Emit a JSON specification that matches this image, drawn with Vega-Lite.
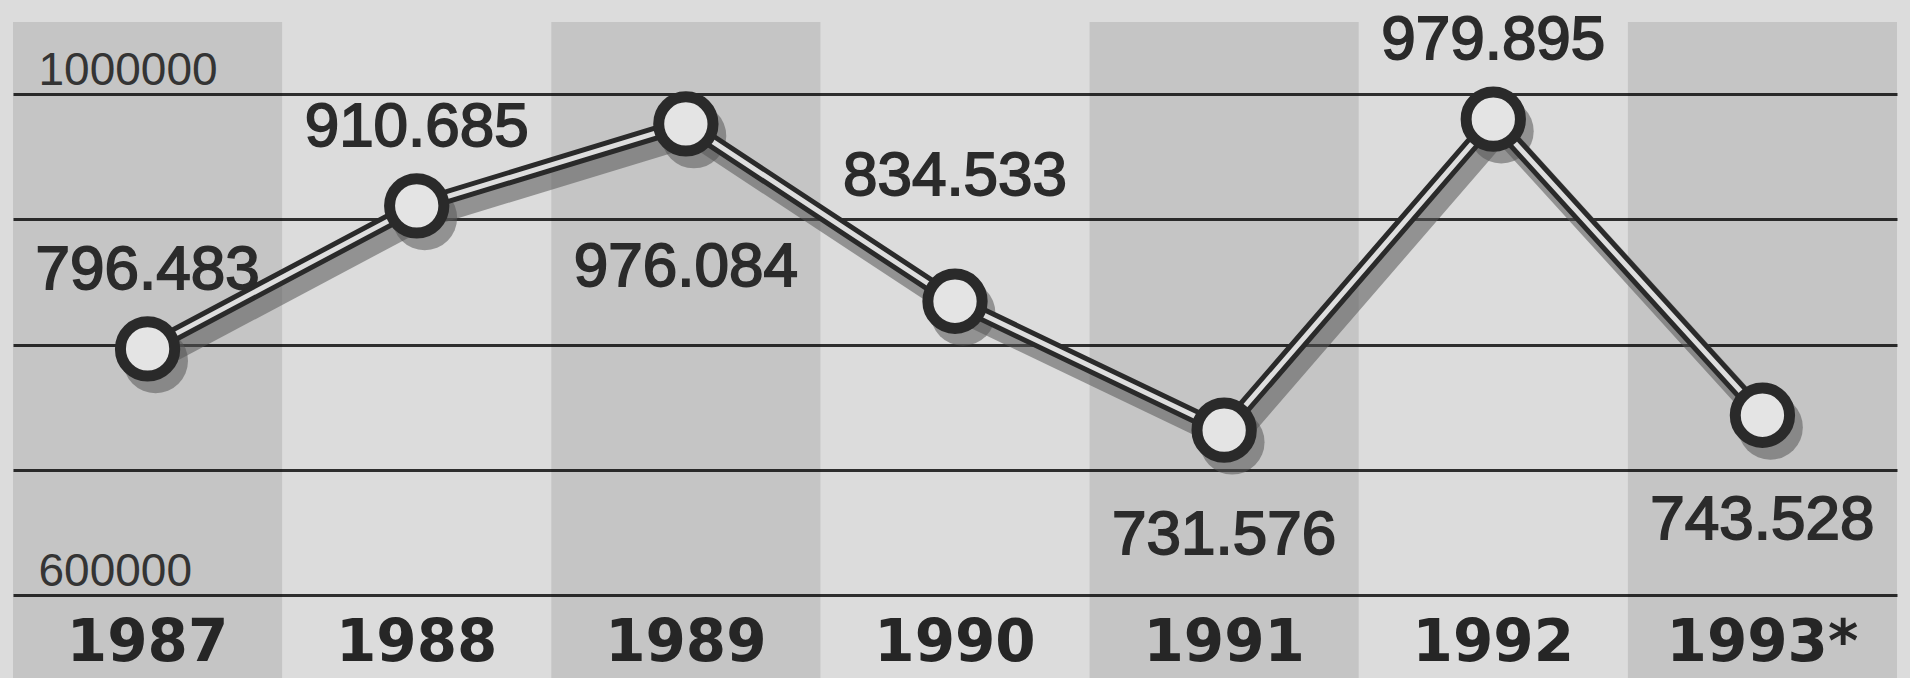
{
  "$schema": "https://vega.github.io/schema/vega-lite/v6.json",
  "width": 1884,
  "height": 678,
  "autosize": {"type": "none"},
  "padding": {"left": 13, "right": 13, "top": 0, "bottom": 0},
  "background": "#dcdcdc",
  "config": {"view": {"stroke": null}},
  "data": {
    "values": [
      {"year": "1987", "value": 796483, "label": "796.483"},
      {"year": "1988", "value": 910685, "label": "910.685"},
      {"year": "1989", "value": 976084, "label": "976.084"},
      {"year": "1990", "value": 834533, "label": "834.533"},
      {"year": "1991", "value": 731576, "label": "731.576"},
      {"year": "1992", "value": 979895, "label": "979.895"},
      {"year": "1993*", "value": 743528, "label": "743.528"}
    ]
  },
  "encoding": {
    "x": {
      "field": "year",
      "type": "nominal",
      "sort": null,
      "scale": {"type": "band", "paddingInner": 0, "paddingOuter": 0, "domain": ["1987", "1988", "1989", "1990", "1991", "1992", "1993*"]},
      "axis": null
    }
  },
  "layer": [
    {
      "transform": [{"filter": {"field": "year", "oneOf": ["1987", "1989", "1991", "1993*"]}}],
      "mark": {"type": "rect", "color": "#000000", "opacity": 0.1},
      "encoding": {
        "y": {"datum": 1057500, "type": "quantitative", "scale": {"domain": [533733, 1075050], "nice": false, "zero": false}},
        "y2": {"datum": 533733}
      }
    },
    {
      "transform": [{"filter": {"field": "year", "oneOf": ["1987", "1988", "1992"]}}],
      "mark": {"type": "text", "font": "Liberation Sans", "fontSize": 62, "color": "#2b2b2b", "stroke": "#2b2b2b", "strokeWidth": 1.8, "baseline": "alphabetic", "align": "center", "dy": -60},
      "encoding": {
        "y": {"field": "value", "type": "quantitative", "scale": {"domain": [533733, 1075050], "nice": false, "zero": false}},
        "text": {"field": "label"}
      }
    },
    {
      "transform": [{"filter": {"field": "year", "oneOf": ["1990"]}}],
      "mark": {"type": "text", "font": "Liberation Sans", "fontSize": 62, "color": "#2b2b2b", "stroke": "#2b2b2b", "strokeWidth": 1.8, "baseline": "alphabetic", "align": "center", "dy": -106},
      "encoding": {
        "y": {"field": "value", "type": "quantitative", "scale": {"domain": [533733, 1075050], "nice": false, "zero": false}},
        "text": {"field": "label"}
      }
    },
    {
      "transform": [{"filter": {"field": "year", "oneOf": ["1991", "1993*"]}}],
      "mark": {"type": "text", "font": "Liberation Sans", "fontSize": 62, "color": "#2b2b2b", "stroke": "#2b2b2b", "strokeWidth": 1.8, "baseline": "alphabetic", "align": "center", "dy": 124},
      "encoding": {
        "y": {"field": "value", "type": "quantitative", "scale": {"domain": [533733, 1075050], "nice": false, "zero": false}},
        "text": {"field": "label"}
      }
    },
    {
      "transform": [{"filter": {"field": "year", "oneOf": ["1989"]}}],
      "mark": {"type": "text", "font": "Liberation Sans", "fontSize": 62, "color": "#2b2b2b", "stroke": "#2b2b2b", "strokeWidth": 1.8, "baseline": "alphabetic", "align": "center", "dy": 162},
      "encoding": {
        "y": {"field": "value", "type": "quantitative", "scale": {"domain": [533733, 1075050], "nice": false, "zero": false}},
        "text": {"field": "label"}
      }
    },
    {
      "mark": {"type": "text", "font": "DejaVu Sans", "fontWeight": "bold", "fontSize": 58, "color": "#262626", "baseline": "alphabetic", "align": "center"},
      "encoding": {
        "y": {"datum": 547000, "type": "quantitative", "scale": {"domain": [533733, 1075050], "nice": false, "zero": false}},
        "text": {"field": "year"}
      }
    },
    {
      "mark": {"type": "line", "color": "#555555", "opacity": 0.55, "strokeWidth": 20, "xOffset": 8, "yOffset": 12, "strokeJoin": "round"},
      "encoding": {
        "y": {"field": "value", "type": "quantitative", "scale": {"domain": [533733, 1075050], "nice": false, "zero": false}}
      }
    },
    {
      "mark": {"type": "point", "filled": true, "color": "#555555", "opacity": 0.55, "size": 4200, "shape": "circle", "xOffset": 8, "yOffset": 12},
      "encoding": {
        "y": {"field": "value", "type": "quantitative", "scale": {"domain": [533733, 1075050], "nice": false, "zero": false}}
      }
    },
    {
      "mark": {"type": "line", "color": "#2a2a2a", "strokeWidth": 15, "strokeJoin": "round"},
      "encoding": {
        "y": {
          "field": "value",
          "type": "quantitative",
          "scale": {"domain": [533733, 1075050], "nice": false, "zero": false},
          "axis": {
            "values": [600000, 700000, 800000, 900000, 1000000],
            "grid": true,
            "gridColor": "#2e2e2e",
            "gridWidth": 3,
            "gridOpacity": 1,
            "domain": false,
            "ticks": false,
            "tickSize": 0,
            "labelPadding": -25,
            "labelAlign": "left",
            "labelBaseline": "alphabetic",
            "labelOffset": -10,
            "labelExpr": "datum.value == 1000000 || datum.value == 600000 ? '' + datum.value : ''",
            "labelFont": "Liberation Sans",
            "labelFontSize": 46,
            "labelColor": "#3a3a3a",
            "labelOverlap": false,
            "labelBound": false,
            "labelFlush": false,
            "title": null
          }
        }
      }
    },
    {
      "mark": {"type": "line", "color": "#dedede", "strokeWidth": 5, "strokeJoin": "round"},
      "encoding": {
        "y": {"field": "value", "type": "quantitative", "scale": {"domain": [533733, 1075050], "nice": false, "zero": false}}
      }
    },
    {
      "mark": {"type": "point", "filled": true, "fill": "#e4e4e4", "stroke": "#2a2a2a", "strokeWidth": 11, "opacity": 1, "size": 2950, "shape": "circle"},
      "encoding": {
        "y": {"field": "value", "type": "quantitative", "scale": {"domain": [533733, 1075050], "nice": false, "zero": false}}
      }
    }
  ]
}
